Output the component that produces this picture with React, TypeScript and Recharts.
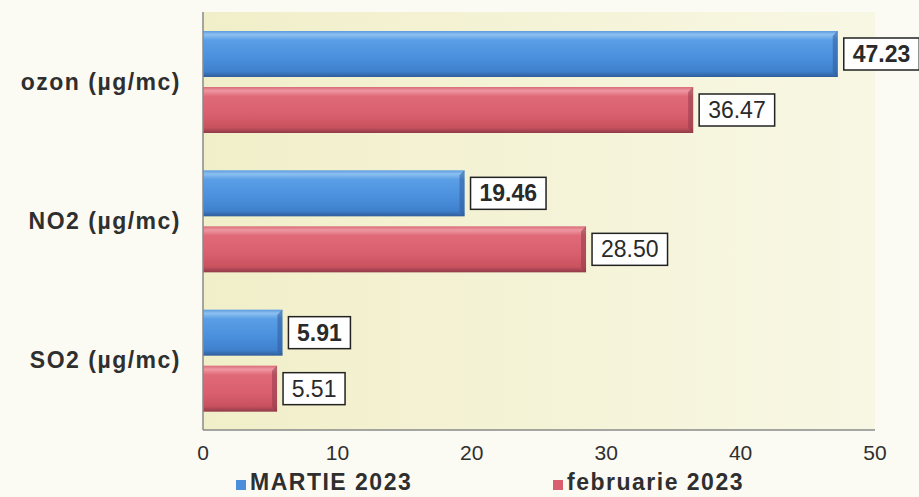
import React from 'react'
import { BarChart, Bar, XAxis, YAxis, CartesianGrid, LabelList } from 'recharts'

const categories = ['ozon (µg/mc)', 'NO2 (µg/mc)', 'SO2 (µg/mc)']
const martie2023 = [47.23, 19.46, 5.91]
const februarie2023 = [36.47, 28.5, 5.51]
const xTicks = [0, 10, 20, 30, 40, 50]

const data = categories.map((name, i) => ({
  name,
  martie: martie2023[i],
  februarie: februarie2023[i],
}))

const FONT = 'Arial, "Liberation Sans", sans-serif'

// bara cu efect de relief (highlight sus, umbra jos, capat tesit)
const makeShape = (grad: string, edge: string) => (props: any) => {
  const { x, y, width, height } = props
  if (!width || width <= 0) return <g />
  const b = Math.min(5, width / 2)
  return (
    <g>
      <rect x={x} y={y} width={width} height={height} fill={`url(#${grad})`} />
      <polygon
        points={`${x + width - b},${y + b} ${x + width},${y} ${x + width},${y + height} ${x + width - b},${y + height - b}`}
        fill={edge}
        opacity={0.55}
      />
    </g>
  )
}

const makeLabel = (bold: boolean) => (props: any) => {
  const { x, y, width, height, value } = props
  const txt = Number(value).toFixed(2)
  const bw = txt.length * 13.5 + 8
  const bh = 32
  const bx = x + width + 6
  const by = y + height / 2 - bh / 2
  return (
    <g>
      <rect x={bx} y={by} width={bw} height={bh} fill="#ffffff" stroke="#222" strokeWidth={1.5} />
      <text
        x={bx + bw / 2}
        y={by + bh / 2 + 8}
        textAnchor="middle"
        fontFamily={FONT}
        fontSize={23}
        fontWeight={bold ? 700 : 400}
        fill="#2a2a2a"
      >
        {txt}
      </text>
    </g>
  )
}

const legendItems = [
  { label: 'MARTIE 2023', color: '#4a8fdc', left: 236 },
  { label: 'februarie 2023', color: '#d95f6e', left: 553 },
]

export default function App() {
  return (
    <div style={{ position: 'relative', width: 919, height: 497, background: '#fbfbf4', overflow: 'hidden' }}>
      <style>{`body{margin:0}`}</style>
      <BarChart
        width={919}
        height={497}
        data={data}
        layout="vertical"
        margin={{ top: 12, right: 44, left: 0, bottom: 30 }}
        barCategoryGap={19}
        barGap={10}
      >
        <defs>
          <linearGradient id="plotBg" x1="0" y1="0" x2="1" y2="0">
            <stop offset="0%" stopColor="#f1efc9" />
            <stop offset="100%" stopColor="#f8f7e4" />
          </linearGradient>
          <linearGradient id="blueBar" x1="0" y1="0" x2="0" y2="1">
            <stop offset="0%" stopColor="#5c9be0" />
            <stop offset="8%" stopColor="#8cc0f0" />
            <stop offset="20%" stopColor="#5a9ee6" />
            <stop offset="60%" stopColor="#4a8fdc" />
            <stop offset="88%" stopColor="#3f80cc" />
            <stop offset="100%" stopColor="#2f5d9a" />
          </linearGradient>
          <linearGradient id="redBar" x1="0" y1="0" x2="0" y2="1">
            <stop offset="0%" stopColor="#d96a78" />
            <stop offset="8%" stopColor="#ee98a2" />
            <stop offset="20%" stopColor="#e06a78" />
            <stop offset="60%" stopColor="#d95f6e" />
            <stop offset="88%" stopColor="#c9525f" />
            <stop offset="100%" stopColor="#8f3a48" />
          </linearGradient>
        </defs>
        <CartesianGrid horizontal={false} vertical={false} fill="url(#plotBg)" />
        <XAxis
          type="number"
          domain={[0, 50]}
          ticks={xTicks}
          height={37}
          tickLine={false}
          tickMargin={9}
          axisLine={{ stroke: '#8a8a8a', strokeWidth: 1.5 }}
          tick={{ fill: '#2f2f2f', fontSize: 21, fontFamily: FONT }}
        />
        <YAxis
          type="category"
          dataKey="name"
          width={203}
          tickLine={false}
          tickMargin={16}
          axisLine={{ stroke: '#8a8a8a', strokeWidth: 1.5 }}
          tick={{ fill: '#2f2f2f', fontSize: 23, fontWeight: 700, fontFamily: FONT, letterSpacing: 1.5 }}
        />
        <Bar dataKey="martie" shape={makeShape('blueBar', '#2f5d9a')} isAnimationActive={false}>
          <LabelList dataKey="martie" content={makeLabel(true)} />
        </Bar>
        <Bar dataKey="februarie" shape={makeShape('redBar', '#8f3a48')} isAnimationActive={false}>
          <LabelList dataKey="februarie" content={makeLabel(false)} />
        </Bar>
      </BarChart>
      {legendItems.map((it) => (
        <div
          key={it.label}
          style={{
            position: 'absolute',
            left: it.left,
            top: 469,
            display: 'flex',
            alignItems: 'center',
            fontFamily: FONT,
            fontSize: 23,
            fontWeight: 700,
            color: '#2f2f2f',
            letterSpacing: 1.5,
            lineHeight: '26px',
            whiteSpace: 'nowrap',
          }}
        >
          <span style={{ display: 'inline-block', width: 10, height: 10, background: it.color, marginRight: 4, marginTop: 6 }} />
          {it.label}
        </div>
      ))}
    </div>
  )
}
